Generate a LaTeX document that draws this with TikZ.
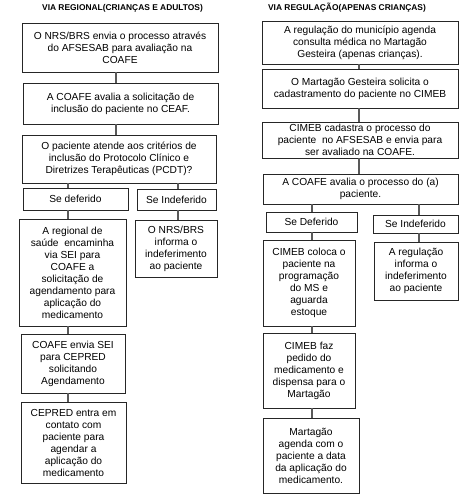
\documentclass[tikz,border=0pt]{standalone}
\usepackage{fontspec}
\setmainfont{Liberation Sans}
\begin{document}
\begin{tikzpicture}[x=1pt,y=1pt,
  bx/.style={draw=black!85, line width=0.9pt, align=center, inner sep=1pt,
    font=\fontsize{10.2}{12}\selectfont},
  ttl/.style={font=\bfseries\fontsize{8.4}{10}\selectfont},
  cn/.style={draw=black!65, line width=1.4pt}]
\useasboundingbox (0,0) rectangle (468,-504);
% titles
\node[ttl] (tl) at (122.5,-8) {VIA REGIONAL(CRIANÇAS E ADULTOS)};
\node[ttl] (tr) at (347,-8) {VIA REGULAÇÃO(APENAS CRIANÇAS)};
% left column
\node[bx, minimum width=196, minimum height=49] (L1) at (120,-47.5) {O NRS/BRS envia o processo através\\do AFSESAB para avaliação na\\COAFE};
\node[bx, minimum width=195, minimum height=41] (L2) at (120.5,-103.5) {A COAFE avalia a solicitação de\\inclusão do paciente no CEAF.};
\node[bx, minimum width=194, minimum height=48] (L3) at (119,-159) {O paciente atende aos critérios de\\inclusão do Protocolo Clínico e\\Diretrizes Terapêuticas (PCDT)?};
\node[bx, minimum width=105, minimum height=22] (Ld) at (75.5,-199) {Se deferido};
\node[bx, minimum width=79, minimum height=21] (Li) at (176.5,-199.5) {Se Indeferido};
\node[bx, minimum width=107, minimum height=107] (L5) at (72.5,-272.5) {A regional de\\saúde\ \ encaminha\\via SEI para\\COAFE a\\solicitação de\\agendamento para\\aplicação do\\medicamento};
\node[bx, minimum width=82, minimum height=57] (L6) at (176,-248.5) {O NRS/BRS\\informa o\\indeferimento\\ao paciente};
\node[bx, minimum width=104, minimum height=59] (L7) at (73,-363.5) {COAFE envia SEI\\para CEPRED\\solicitando\\Agendamento};
\node[bx, minimum width=105, minimum height=81] (L8) at (73.5,-442.5) {CEPRED entra em\\contato com\\paciente para\\agendar a\\aplicação do\\medicamento};
% right column
\node[bx, minimum width=196, minimum height=43] (R1) at (360,-42.5) {A regulação do município agenda\\consulta médica no Martagão\\Gesteira (apenas crianças).};
\node[bx, minimum width=196, minimum height=39] (R2) at (360,-88.5) {O Martagão Gesteira solicita o\\cadastramento do paciente no CIMEB};
\node[bx, minimum width=196, minimum height=36] (R3) at (360,-140) {CIMEB cadastra o processo do\\paciente\ \ no AFSESAB e envia para\\ser avaliado na COAFE.};
\node[bx, minimum width=195, minimum height=30] (R4) at (360.5,-189) {A COAFE avalia o processo do (a)\\paciente.};
\node[bx, minimum width=91, minimum height=20] (Rd) at (311.5,-222) {Se Deferido};
\node[bx, minimum width=85, minimum height=18] (Ri) at (415.5,-224) {Se Indeferido};
\node[bx, minimum width=92, minimum height=86] (R5) at (309,-283) {CIMEB coloca o\\paciente na\\programação\\do MS e\\aguarda\\estoque};
\node[bx, minimum width=84, minimum height=58] (R6) at (416,-271) {A regulação\\informa o\\indeferimento\\ao paciente};
\node[bx, minimum width=92, minimum height=75] (R7) at (309,-370.5) {CIMEB faz\\pedido do\\medicamento e\\dispensa para o\\Martagão};
\node[bx, minimum width=96, minimum height=75] (R8) at (311,-455.5) {Martagão\\agenda com o\\paciente a data\\da aplicação do\\medicamento.};
% connector columns
\coordinate (xa) at (116,0);
\coordinate (xb) at (68,0);
\coordinate (xc) at (178,0);
\coordinate (xd) at (359,0);
\coordinate (xe) at (312,0);
\coordinate (xf) at (419,0);
% left connectors
\draw[cn] (L1.south -| xa) -- (L2.north -| xa);
\draw[cn] (L2.south -| xa) -- (L3.north -| xa);
\draw[cn] (L3.south -| xb) -- (Ld.north -| xb);
\draw[cn] (L3.south -| xc) -- (Li.north -| xc);
\draw[cn] (Ld.south -| xb) -- (L5.north -| xb);
\draw[cn] (Li.south -| xc) -- (L6.north -| xc);
\draw[cn] (L5.south -| xb) -- (L7.north -| xb);
\draw[cn] (L7.south -| xb) -- (L8.north -| xb);
% right connectors
\draw[cn] (R1.south -| xd) -- (R2.north -| xd);
\draw[cn] (R2.south -| xd) -- (R3.north -| xd);
\draw[cn] (R3.south -| xd) -- (R4.north -| xd);
\draw[cn] (R4.south -| xe) -- (Rd.north -| xe);
\draw[cn] (R4.south -| xf) -- (Ri.north -| xf);
\draw[cn] (Rd.south -| xe) -- (R5.north -| xe);
\draw[cn] (Ri.south -| xf) -- (R6.north -| xf);
\draw[cn] (R5.south -| xe) -- (R7.north -| xe);
\draw[cn] (R7.south -| xe) -- (R8.north -| xe);
\end{tikzpicture}
\end{document}
